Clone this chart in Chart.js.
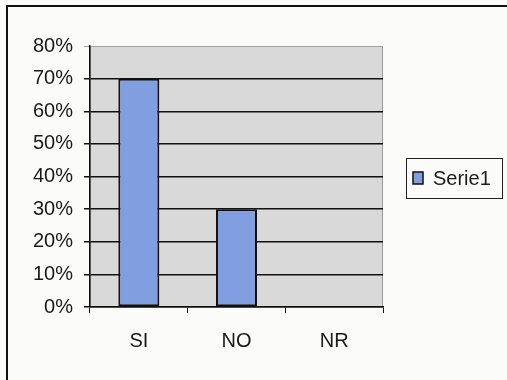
<!DOCTYPE html>
<html>
<head>
<meta charset="utf-8">
<script src="https://cdn.jsdelivr.net/npm/chart.js@4/dist/chart.umd.min.js"></script>
<style>
  html, body { margin: 0; padding: 0; background: #fbfbfa; }
  #wrap { width: 507px; height: 380px; position: relative; }
</style>
</head>
<body>
<div id="wrap"><canvas id="chart" width="507" height="380"></canvas></div>
<script>
// Survey answers and their shares (percent)
const categories = ['SI', 'NO', 'NR'];
const serie1 = [70, 30, 0];
const seriesName = 'Serie1';
const yTicks = [0, 10, 20, 30, 40, 50, 60, 70, 80];

const FONT = '"Liberation Sans", Arial, sans-serif';
const BAR_FILL = '#809ee0';
const PLOT_FILL = '#d9d9d9';

// Page frame, plot-area fill and the boxed legend on the right
const decor = {
  id: 'decor',
  beforeDraw(chart) {
    const { ctx, chartArea: a } = chart;
    ctx.save();
    ctx.fillStyle = '#fbfbfa';
    ctx.fillRect(0, 0, chart.width, chart.height);
    ctx.fillStyle = PLOT_FILL;
    ctx.fillRect(a.left, a.top, a.right - a.left, a.bottom - a.top);
    // light plot-area border
    ctx.strokeStyle = '#9a9a9a';
    ctx.lineWidth = 1;
    ctx.strokeRect(a.left + 0.5, a.top + 0.5, a.right - a.left - 1, a.bottom - a.top - 1);
    // outer frame (top and left edges)
    ctx.strokeStyle = '#111';
    ctx.lineWidth = 2;
    ctx.beginPath();
    ctx.moveTo(7, chart.height);
    ctx.lineTo(7, 6);
    ctx.lineTo(chart.width, 6);
    ctx.stroke();
    ctx.restore();
  },
  afterDraw(chart) {
    const { ctx } = chart;
    const ds = chart.data.datasets[0];
    ctx.save();
    const bx = 406.5, by = 158.5, bw = 96, bh = 40;
    ctx.fillStyle = '#fbfbfa';
    ctx.fillRect(bx, by, bw, bh);
    ctx.strokeStyle = '#222';
    ctx.lineWidth = 1;
    ctx.strokeRect(bx, by, bw, bh);
    ctx.fillStyle = ds.backgroundColor;
    ctx.fillRect(413, 172, 10, 12);
    ctx.lineWidth = 1.5;
    ctx.strokeStyle = '#111';
    ctx.strokeRect(413, 172, 10, 12);
    ctx.fillStyle = '#1a1a1a';
    ctx.font = '20px ' + FONT;
    ctx.textBaseline = 'middle';
    ctx.textAlign = 'left';
    ctx.fillText(ds.label, 433, 179);
    ctx.restore();
  }
};

new Chart(document.getElementById('chart'), {
  type: 'bar',
  data: {
    labels: categories,
    datasets: [{
      label: seriesName,
      data: serie1,
      backgroundColor: BAR_FILL,
      borderColor: '#111',
      borderWidth: 2,
      borderSkipped: false,
      categoryPercentage: 1,
      barPercentage: 0.42
    }]
  },
  options: {
    responsive: false,
    animation: false,
    layout: { padding: { top: 46, right: 124, left: 0, bottom: 0 } },
    plugins: {
      legend: { display: false },
      tooltip: { enabled: false }
    },
    scales: {
      x: {
        afterFit(scale) { scale.height = 73; },
        grid: {
          offset: true,
          drawOnChartArea: false,
          drawTicks: true,
          tickLength: 6,
          color: '#111',
          lineWidth: 1
        },
        border: { display: true, color: '#111', width: 1.5 },
        ticks: {
          color: '#1a1a1a',
          font: { family: FONT, size: 20 },
          padding: 16
        }
      },
      y: {
        min: 0,
        max: 80,
        afterFit(scale) { scale.width = 90; },
        afterBuildTicks(scale) { scale.ticks = yTicks.map(v => ({ value: v })); },
        grid: {
          drawTicks: true,
          tickLength: 6,
          color: ctx => (ctx.tick && ctx.tick.value === 80) ? '#a0a0a0' : '#111',
          lineWidth: ctx => (ctx.tick && ctx.tick.value === 80) ? 1 : 1.5
        },
        border: { display: true, color: '#111', width: 1.5 },
        ticks: {
          color: '#1a1a1a',
          font: { family: FONT, size: 20 },
          padding: 11,
          callback: v => v + '%'
        }
      }
    }
  },
  plugins: [decor]
});
</script>
</body>
</html>
